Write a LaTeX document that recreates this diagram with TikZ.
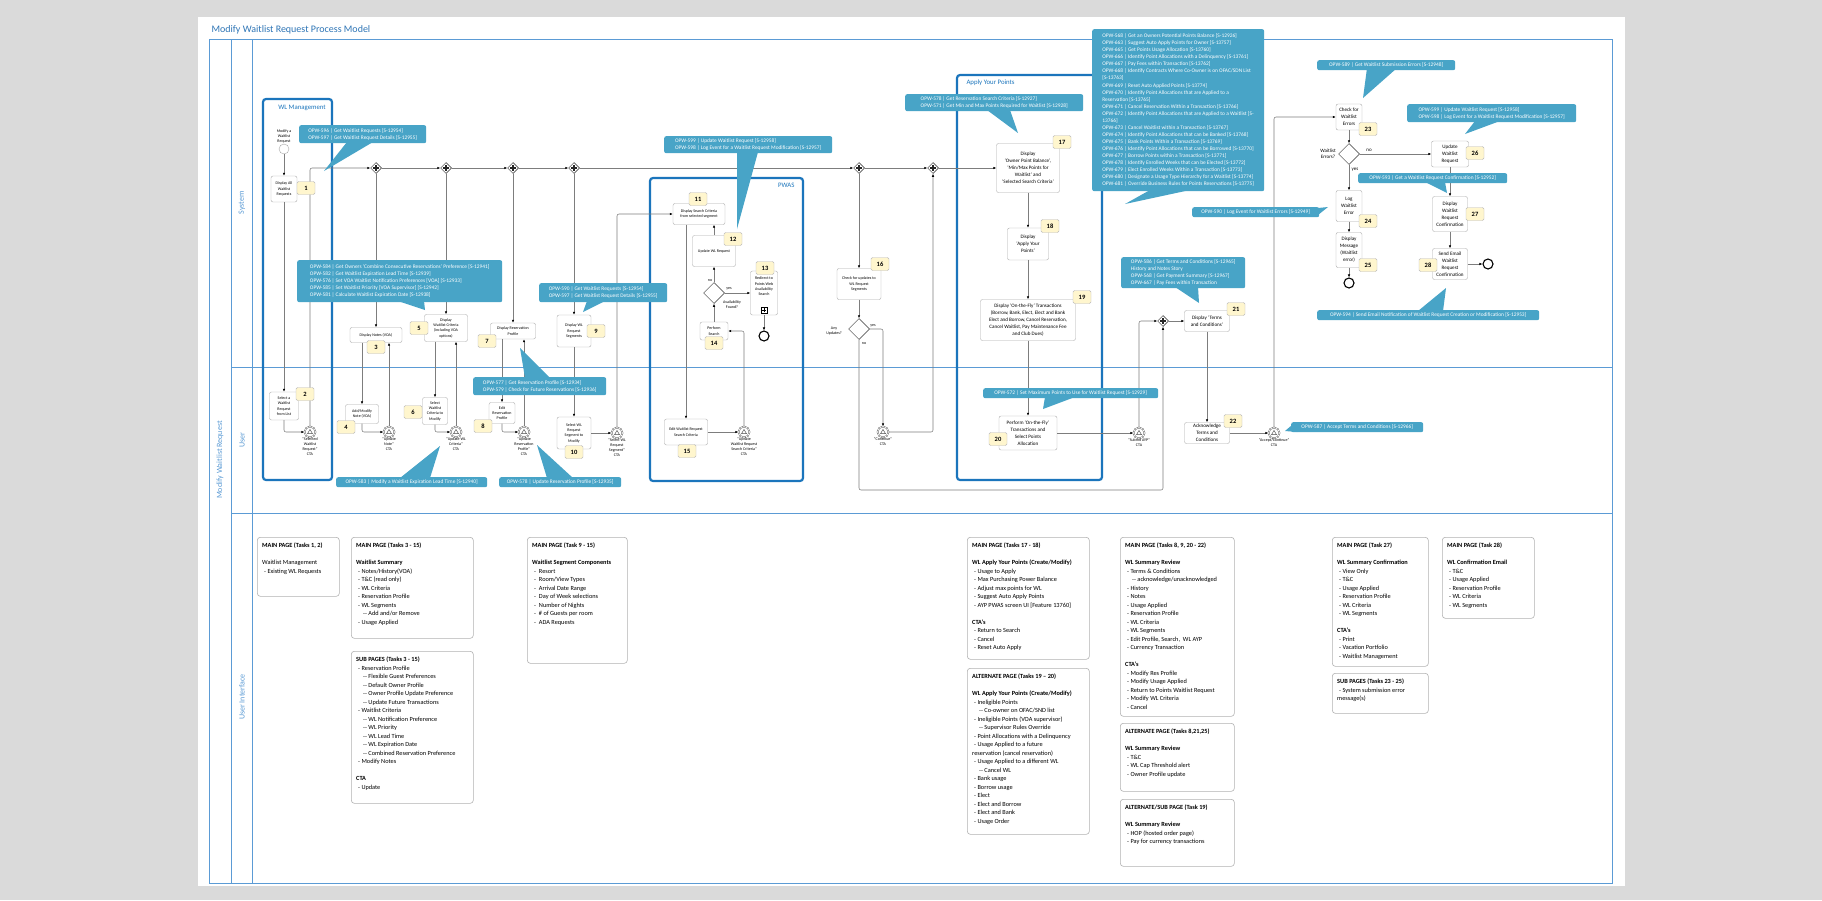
\documentclass[tikz,border=0pt]{standalone}
\usepackage{fontspec}
\setmainfont{Carlito}
\usetikzlibrary{shapes.geometric,arrows.meta,positioning}

\definecolor{lanecol}{RGB}{91,155,213}
\definecolor{grpcol}{RGB}{27,117,188}
\definecolor{callcol}{RGB}{72,164,199}
\definecolor{badgecol}{RGB}{255,246,206}
\definecolor{pagegray}{RGB}{218,218,218}
\definecolor{titlecol}{RGB}{46,117,182}
\definecolor{flowcol}{RGB}{125,125,125}

\newcommand{\lvA}{\hspace*{2pt}}
\newcommand{\lvB}{\hspace*{7pt}}

\tikzset{
  lane/.style={draw=lanecol, line width=0.8pt},
  lanelbl/.style={text=lanecol, font=\fontsize{8}{9}\selectfont, rotate=90},
  grp/.style={draw=grpcol, line width=2.2pt, rounded corners=3pt},
  grplbl/.style={text=grpcol, font=\fontsize{6.8}{8}\selectfont},
  tsk/.style={draw=gray!65, fill=white, rounded corners=2pt, align=center, inner sep=1pt,
    font=\fontsize{4}{5.3}\selectfont},
  tskb/.style={tsk, font=\fontsize{5.1}{7}\selectfont},
  badge/.style={draw=gray!55, fill=badgecol, rounded corners=1.5pt, minimum width=18pt,
    minimum height=13pt, inner sep=0pt, font=\fontsize{6.5}{7}\selectfont\bfseries},
  pgate/.style={diamond, draw=black!85, fill=white, minimum size=11pt, inner sep=0pt, line width=0.5pt,
    path picture={\draw[line width=1.1pt]
      ([yshift=3pt]path picture bounding box.center) -- ([yshift=-3pt]path picture bounding box.center)
      ([xshift=-3pt]path picture bounding box.center) -- ([xshift=3pt]path picture bounding box.center);}},
  xgate/.style={diamond, draw=black!80, fill=white, minimum size=21pt, inner sep=0pt, line width=0.5pt},
  startev/.style={circle, draw=gray!70, fill=white, minimum size=10pt, inner sep=0pt},
  endev/.style={circle, draw=black, line width=1.1pt, fill=white, minimum size=10pt, inner sep=0pt},
  sig/.style={circle, draw=black!70, double, double distance=0.7pt, fill=white, minimum size=11pt,
    inner sep=0pt, label distance=3pt,
    path picture={\draw[black!70, line width=0.45pt]
      ([yshift=2.6pt]path picture bounding box.center)
      -- ([xshift=-2.5pt,yshift=-1.7pt]path picture bounding box.center)
      -- ([xshift=2.5pt,yshift=-1.7pt]path picture bounding box.center) -- cycle;}},
  evlbl/.style={font=\fontsize{4}{5}\selectfont, align=center, inner sep=0pt},
  gwlbl/.style={font=\fontsize{4}{5}\selectfont, align=center, inner sep=0pt},
  gwlblb/.style={font=\fontsize{5}{6}\selectfont, align=center, inner sep=0pt},
  flow/.style={draw=flowcol, line width=0.55pt, rounded corners=2pt,
    -{Latex[length=3pt,width=2.5pt,color=black]}},
  callout/.style={fill=callcol, text=white, rounded corners=2pt, align=left, anchor=north west,
    inner xsep=3pt, inner ysep=1.5pt, font=\fontsize{5.4}{7}\selectfont},
  uibox/.style={draw=gray!60, rounded corners=3pt, anchor=north west, inner sep=0pt, line width=0.6pt},
  uitext/.style={anchor=north west, align=left, inner sep=0pt, font=\fontsize{6.3}{8.5}\selectfont}
}

\begin{document}
\begin{tikzpicture}[x=1pt,y=-1pt]
\useasboundingbox (0,0) rectangle (1822,900);
\fill[pagegray] (0,0) rectangle (1822,900);
\fill[white] (198,17) rectangle (1625,886);

% pool and lanes
\node[anchor=west, text=titlecol, font=\fontsize{10}{12}\selectfont] (title) at (208,30) {Modify Waitlist Request Process Model};
\draw[lane] (209,39) rectangle (1612,883);
\draw[lane] (231,39) -- (231,883);
\draw[lane] (252,39) -- (252,883);
\draw[lane] (231,367) -- (1612,367);
\draw[lane] (231,513) -- (1612,513);
\node[lanelbl] (poolname) at (220,460) {Modify Waitlist Request};
\node[lanelbl] (sysname) at (242,203) {System};
\node[lanelbl] (usrname) at (242,440) {User};
\node[lanelbl] (uiname) at (242,697) {User Interface};

% groups
\draw[grp] (263,99) rectangle (332,480);
\node[grplbl] (wlmgmt) at (302,108) {WL Management};
\draw[grp] (650,178) rectangle (803,481);
\node[grplbl, anchor=east] (pwas) at (798,185) {PWAS};
\draw[grp] (957,75) rectangle (1102,480);
\node[grplbl, anchor=west] (ayp) at (963,83) {Apply Your Points};

% events and gateways
\node[startev, label={[evlbl]above:{Modify a\\Waitlist\\Request}}] (st) at (284,149) {};
\node[sig, label={[evlbl]below:{“Selected\\Waitlist\\Request”\\CTA}}] (e1) at (310,432) {};
\node[sig, label={[evlbl]below:{“Update\\Note”\\CTA}}] (e2) at (389,432) {};
\node[sig, label={[evlbl]below:{“Update WL\\Criteria”\\CTA}}] (e3) at (456,432) {};
\node[sig, label={[evlbl]below:{“Update\\Reservation\\Profile”\\CTA}}] (e4) at (524,432) {};
\node[sig, label={[evlbl]below:{“Select WL\\Request\\Segment”\\CTA}}] (e5) at (617,433) {};
\node[sig, label={[evlbl]below:{“Update\\Waitlist Request\\Search Criteria”\\CTA}}] (e6) at (744,432) {};
\node[sig, label={[evlbl]below:{“Continue”\\CTA}}] (e7) at (883,432) {};
\node[sig, label={[evlbl]below:{“Submit AYP”\\CTA}}] (e8) at (1139,433) {};
\node[sig, label={[evlbl]below:{“Accept/Continue”\\CTA}}] (e9) at (1274,433) {};
\node[endev] (end1) at (764,336) {};
\node[endev] (end2) at (1349,283) {};
\node[endev] (end3) at (1488,264) {};

\node[pgate] (g1) at (376,168) {};
\node[pgate] (g2) at (446,168) {};
\node[pgate] (g3) at (513,168) {};
\node[pgate] (g4) at (574,168) {};
\node[pgate] (g5) at (859,168) {};
\node[pgate] (g6) at (933,168) {};
\node[pgate] (g7) at (1163,321) {};
\node[xgate] (x1) at (714,293) {};
\node[xgate] (x2) at (859,329) {};
\node[xgate] (x3) at (1349,154) {};
\node[gwlbl] (availq) at (732,305) {Availability\\Found?};
\node[gwlbl] (x1no) at (710,281) {no};
\node[gwlbl] (x1yes) at (729,289) {yes};
\node[gwlbl] (anyupd) at (834,331) {Any\\Updates?};
\node[gwlbl] (x2yes) at (873,326) {yes};
\node[gwlbl] (x2no) at (864,344) {no};
\node[gwlblb] (wlerrq) at (1328,154) {Waitlist\\Errors?};
\node[gwlblb] (x3no) at (1369,150) {no};
\node[gwlblb] (x3yes) at (1355,170) {yes};

% tasks
\node[tsk, minimum width=26pt, minimum height=26pt] (t1) at (284,189) {Display All\\Waitlist\\Requests};
\node[tsk, minimum width=29pt, minimum height=28pt] (t2) at (284,406) {Select a\\Waitlist\\Request\\from List};
\node[tsk, minimum width=52pt, minimum height=15pt] (t3) at (376,335) {Display Notes (VOA)};
\node[tsk, minimum width=33pt, minimum height=19pt] (t4) at (362,414) {Add/Modify\\Note (VOA)};
\node[tsk, minimum width=43pt, minimum height=27pt] (t5) at (446,328) {Display\\Waitlist Criteria\\(including VOA\\options)};
\node[tsk, minimum width=25pt, minimum height=27pt] (t6) at (435,411) {Select\\Waitlist\\Criteria to\\Modify};
\node[tsk, minimum width=45pt, minimum height=16pt] (t7) at (513,331) {Display Reservation\\Profile};
\node[tsk, minimum width=26pt, minimum height=21pt] (t8) at (502,413) {Edit\\Reservation\\Profile};
\node[tsk, minimum width=34pt, minimum height=32pt] (t9) at (574,331) {Display WL\\Request\\Segments};
\node[tsk, minimum width=34pt, minimum height=32pt] (t10) at (574,433) {Select WL\\Request\\Segment to\\Modify};
\node[tsk, minimum width=52pt, minimum height=21pt] (t11) at (699,214) {Display Search Criteria\\from selected segment};
\node[tsk, minimum width=43pt, minimum height=31pt] (t12) at (714,251) {Update WL Request};
\node[tsk, minimum width=27pt, minimum height=44pt] (t13) at (764,293) {Redirect to\\Points Web\\Availability\\Search\\[8pt]};
\node[tsk, minimum width=28pt, minimum height=18pt] (t14) at (714,331) {Perform\\Search};
\node[tsk, minimum width=43pt, minimum height=26pt] (t15) at (686,432) {Edit Waitlist Request\\Search Criteria};
\node[tsk, minimum width=44pt, minimum height=31pt] (t16) at (859,284) {Check for updates to\\WL Request\\Segments};
\node[tskb, minimum width=63pt, minimum height=49pt] (t17) at (1028,168) {Display\\‘Owner Point Balance’,\\‘Min/Max Points for\\Waitlist’ and\\‘Selected Search Criteria’};
\node[tskb, minimum width=41pt, minimum height=32pt] (t18) at (1028,244) {Display\\‘Apply Your\\Points’};
\node[tskb, minimum width=95pt, minimum height=41pt] (t19) at (1028,320) {Display ‘On-the-Fly’ Transactions\\(Borrow, Bank, Elect, Elect and Bank\\Elect and Borrow, Cancel Reservation,\\Cancel Waitlist, Pay Maintenance Fee\\and Club Dues)};
\node[tskb, minimum width=58pt, minimum height=34pt] (t20) at (1028,433) {Perform ‘On-the-Fly’\\Transactions and\\Select Points\\Allocation};
\node[tskb, minimum width=45pt, minimum height=21pt] (t21) at (1207,321) {Display ‘Terms\\and Conditions’};
\node[tskb, minimum width=45pt, minimum height=21pt] (t22) at (1207,433) {Acknowledge\\Terms and\\Conditions};
\node[tskb, minimum width=26pt, minimum height=26pt] (t23) at (1349,117) {Check for\\Waitlist\\Errors};
\node[tskb, minimum width=26pt, minimum height=31pt] (t24) at (1349,206) {Log\\Waitlist\\Error};
\node[tskb, minimum width=26pt, minimum height=35pt] (t25) at (1349,250) {Display\\Message\\(Waitlist\\error)};
\node[tskb, minimum width=37pt, minimum height=26pt] (t26) at (1450,154) {Update\\Waitlist\\Request};
\node[tskb, minimum width=35pt, minimum height=35pt] (t27) at (1450,214) {Display\\Waitlist\\Request\\Confirmation};
\node[tskb, minimum width=35pt, minimum height=31pt] (t28) at (1450,264) {Send Email\\Waitlist\\Request\\Confirmation};
% sub-process marker
\draw[line width=0.45pt] ([xshift=-3pt,yshift=2pt]t13.south) rectangle ([xshift=3pt,yshift=8pt]t13.south);
\draw[line width=0.6pt] ([yshift=3pt]t13.south) -- ([yshift=7pt]t13.south)
  ([xshift=-2pt,yshift=5pt]t13.south) -- ([xshift=2pt,yshift=5pt]t13.south);

% sequence flows
\draw[flow] (st) -- (t1);
\draw[flow] (t1) -- (t2);
\draw[flow] (t2.south) |- (e1);
\draw[flow] (e1) |- (g1);
\draw[flow] (g1) -- (g2);
\draw[flow] (g2) -- (g3);
\draw[flow] (g3) -- (g4);
\draw[flow] (g4) -- (g5);
\draw[flow] (g5) -- (g6);
\draw[flow] (g6) -- (t17);
\draw[flow] (g1) -- (t3);
\draw[flow] (t3.south -| t4) -- (t4);
\draw[flow] (t4.south) |- (e2);
\draw[flow] (e2) -- (e2 |- t3.south);
\draw[flow] (g2) -- (t5);
\draw[flow] (t5.south -| t6) -- (t6);
\draw[flow] (t6.south) |- (e3);
\draw[flow] (e3) -- (e3 |- t5.south);
\draw[flow] (g3) -- (t7);
\draw[flow] (t7.south -| t8) -- (t8);
\draw[flow] (t8.south) |- (e4);
\draw[flow] (e4) -- (e4 |- t7.south);
\draw[flow] (g4) -- (t9);
\draw[flow] (t9) -- (t10);
\draw[flow] (t10) -- (e5);
\draw[flow] (e5) |- (t11);
\draw[flow] (t11.south -| t15) -- (t15);
\draw[flow] (t15) -- (e6);
\draw[flow] (e6) |- (t14);
\draw[flow] (t14) -- (x1);
\draw[flow] (x1) -- (t12);
\draw[flow] (x1) -- (t13);
\draw[flow] (t13) -- (end1);
\draw[flow] (t12.north) -- (t12.north |- t11.south);
\draw[flow] (g5) -- (t16);
\draw[flow] (t16) -- (x2);
\draw[flow] (x2) -| (e7);
\draw[flow] (e7) -| (g6);
\coordinate (nobend) at (1163,490);
\draw[flow] (x2) |- (nobend) -- (g7);
\draw[flow] (t17) -- (t18);
\draw[flow] (t18) -- (t19);
\draw[flow] (t19) -- (t20);
\draw[flow] (t20) -- (e8);
\draw[flow] (e8) |- (g7);
\draw[flow] (g7) -- (t21);
\draw[flow] (t21) -- (t22);
\draw[flow] (t22) -- (e9);
\draw[flow] (e9) |- (t23);
\draw[flow] (t23) -- (x3);
\draw[flow] (x3) -- (t26);
\draw[flow] (x3) -- (t24);
\draw[flow] (t24) -- (t25);
\draw[flow] (t25) -- (end2);
\draw[flow] (t26) -- (t27);
\draw[flow] (t27) -- (t28);
\draw[flow] (t28) -- (end3);

% task numbers
\node[badge] (b1) at (306,188) {1};
\node[badge] (b2) at (305,394) {2};
\node[badge] (b3) at (376,347) {3};
\node[badge] (b4) at (346,427) {4};
\node[badge] (b5) at (419,328) {5};
\node[badge] (b6) at (413,412) {6};
\node[badge] (b7) at (487,341) {7};
\node[badge] (b8) at (483,426) {8};
\node[badge] (b9) at (596,331) {9};
\node[badge] (b10) at (574,452) {10};
\node[badge] (b11) at (698,199) {11};
\node[badge] (b12) at (733,239) {12};
\node[badge] (b13) at (765,268) {13};
\node[badge] (b14) at (714,343) {14};
\node[badge] (b15) at (687,451) {15};
\node[badge] (b16) at (880,264) {16};
\node[badge] (b17) at (1062,142) {17};
\node[badge] (b18) at (1050,226) {18};
\node[badge] (b19) at (1082,297) {19};
\node[badge] (b20) at (998,439) {20};
\node[badge] (b21) at (1236,309) {21};
\node[badge] (b22) at (1233,421) {22};
\node[badge] (b23) at (1368,129) {23};
\node[badge] (b24) at (1368,221) {24};
\node[badge] (b25) at (1368,265) {25};
\node[badge] (b26) at (1475,153) {26};
\node[badge] (b27) at (1475,214) {27};
\node[badge] (b28) at (1428,265) {28};

% service callouts
\coordinate (cAtip) at (324,171);
\fill[callcol] (347,142) -- (cAtip) -- (373,142) -- cycle;
\node[callout, minimum width=127pt, minimum height=18pt] (cA) at (299,125)
  {OPW-596 | Get Waitlist Requests [S-12954]\\OPW-597 | Get Waitlist Request Details [S-12955]};
\coordinate (cBtip) at (425,310);
\fill[callcol] (398,301) -- (cBtip) -- (424,301) -- cycle;
\node[callout, minimum width=205pt, minimum height=42pt] (cB) at (297,260)
  {OPW-584 | Get Owners ‘Combine Consecutive Reservations’ Preference [S-12941]\\
   OPW-582 | Get Waitlist Expiration Lead Time [S-12939]\\
   OPW-576 | Set VOA Waitlist Notification Preferences [VOA] [S-12933]\\
   OPW-585 | Set Waitlist Priority [VOA Supervisor] [S-12942]\\
   OPW-581 | Calculate Waitlist Expiration Date [S-12938]};
\coordinate (cCtip) at (583,312);
\fill[callcol] (587,301) -- (cCtip) -- (605,301) -- cycle;
\node[callout, minimum width=128pt, minimum height=19pt] (cC) at (539,283)
  {OPW-590 | Get Waitlist Requests [S-12954]\\OPW-597 | Get Waitlist Request Details [S-12955]};
\coordinate (cDtip) at (520,348);
\fill[callcol] (525,378) -- (cDtip) -- (550,378) -- cycle;
\node[callout, minimum width=133pt, minimum height=18pt] (cD) at (473,377)
  {OPW-577 | Get Reservation Profile [S-12934]\\OPW-579 | Check for Future Reservations [S-12936]};
\coordinate (cEtip) at (440,446);
\fill[callcol] (400,478) -- (cEtip) -- (430,478) -- cycle;
\node[callout, minimum width=151pt, minimum height=10pt] (cE) at (336,477)
  {OPW-583 | Modify a Waitlist Expiration Lead Time [S-12940]};
\coordinate (cFtip) at (537,445);
\fill[callcol] (547,478) -- (cFtip) -- (573,478) -- cycle;
\node[callout, minimum width=122pt, minimum height=10pt] (cF) at (499,477)
  {OPW-578 | Update Reservation Profile [S-12935]};
\coordinate (cGtip) at (737,229);
\fill[callcol] (737,152) -- (cGtip) -- (758,152) -- cycle;
\node[callout, minimum width=168pt, minimum height=17pt] (cG) at (664,136)
  {OPW-599 | Update Waitlist Request [S-12958]\\OPW-598 | Log Event for a Waitlist Request Modification [S-12957]};
\coordinate (cHtip) at (1018,133);
\fill[callcol] (987,110) -- (cHtip) -- (1010,110) -- cycle;
\node[callout, minimum width=178pt, minimum height=17pt] (cH) at (905,94)
  {OPW-578 | Get Reservation Search Criteria [S-12927]\\OPW-571 | Get Min and Max Points Required for Waitlist [S-12928]};
\coordinate (cItip) at (1125,204);
\fill[callcol] (1150,190) -- (cItip) -- (1190,190) -- cycle;
\node[callout, minimum width=172pt, minimum height=162pt, font=\fontsize{5.4}{7.05}\selectfont] (cI) at (1092,29)
  {OPW-568 | Get an Owners Potential Points Balance [S-12926]\\
   OPW-663 | Suggest Auto Apply Points for Owner [S-13757]\\
   OPW-665 | Get Points Usage Allocation [S-13760]\\
   OPW-666 | Identify Point Allocations with a Delinquency [S-13761]\\
   OPW-667 | Pay Fees within Transaction [S-13762]\\
   OPW-668 | Identify Contracts Where Co-Owner is on OFAC/SDN List\\
   {}[S-13763]\\
   OPW-669 | Reset Auto Applied Points [S-13774]\\
   OPW-670 | Identify Point Allocations that are Applied to a\\
   Reservation [S-13765]\\
   OPW-671 | Cancel Reservation Within a Transaction [S-13766]\\
   OPW-672 | Identify Point Allocations that are Applied to a Waitlist [S-\\
   13766]\\
   OPW-673 | Cancel Waitlist within a Transaction [S-13767]\\
   OPW-674 | Identify Point Allocations that can be Banked [S-13768]\\
   OPW-675 | Bank Points Within a Transaction [S-13769]\\
   OPW-676 | Identify Point Allocations that can be Borrowed [S-13770]\\
   OPW-677 | Borrow Points within a Transaction [S-13771]\\
   OPW-678 | Identify Enrolled Weeks that can be Elected [S-13772]\\
   OPW-679 | Elect Enrolled Weeks Within a Transaction [S-13773]\\
   OPW-680 | Designate a Usage Type Hierarchy for a Waitlist [S-13774]\\
   OPW-681 | Override Business Rules for Points Reservations [S-13775]};
\coordinate (cJtip) at (1328,207);
\fill[callcol] (1318,208) -- (cJtip) -- (1318,215) -- cycle;
\node[callout, minimum width=127pt, minimum height=10pt] (cJ) at (1192,207)
  {OPW-590 | Log Event for Waitlist Errors [S-12949]};
\coordinate (cKtip) at (1363,98);
\fill[callcol] (1367,68) -- (cKtip) -- (1397,68) -- cycle;
\node[callout, minimum width=138pt, minimum height=10pt] (cK) at (1317,60)
  {OPW-589 | Get Waitlist Submission Errors [S-12948]};
\coordinate (cLtip) at (1465,134);
\fill[callcol] (1475,121) -- (cLtip) -- (1500,121) -- cycle;
\node[callout, minimum width=169pt, minimum height=18pt] (cL) at (1407,104)
  {OPW-599 | Update Waitlist Request [S-12958]\\OPW-598 | Log Event for a Waitlist Request Modification [S-12957]};
\coordinate (cMtip) at (1447,193);
\fill[callcol] (1425,182) -- (cMtip) -- (1445,182) -- cycle;
\node[callout, minimum width=149pt, minimum height=10pt] (cM) at (1358,173)
  {OPW-593 | Get a Waitlist Request Confirmation [S-12952]};
\coordinate (cNtip) at (1446,288);
\fill[callcol] (1418,311) -- (cNtip) -- (1443,311) -- cycle;
\node[callout, minimum width=222pt, minimum height=10pt] (cN) at (1317,310)
  {OPW-594 | Send Email Notification of Waitlist Request Creation or Modification [S-12953]};
\coordinate (cOtip) at (1199,303);
\fill[callcol] (1175,287) -- (cOtip) -- (1198,287) -- cycle;
\node[callout, minimum width=124pt, minimum height=31pt] (cO) at (1121,257)
  {OPW-586 | Get Terms and Conditions [S-12965]\\History and Notes Story\\
   OPW-568 | Get Payment Summary [S-12967]\\OPW-667 | Pay Fees within Transaction};
\coordinate (cPtip) at (1043,409);
\fill[callcol] (1045,397) -- (cPtip) -- (1075,397) -- cycle;
\node[callout, minimum width=175pt, minimum height=10pt] (cP) at (983,388)
  {OPW-572 | Set Maximum Points to Use for Waitlist Request [S-12929]};
\coordinate (cQtip) at (1285,431);
\fill[callcol] (1292,425) -- (cQtip) -- (1297,432) -- cycle;
\node[callout, minimum width=132pt, minimum height=10pt] (cQ) at (1291,422)
  {OPW-587 | Accept Terms and Conditions [S-12966]};

% user interface pages
\node[uibox, minimum width=82pt, minimum height=59pt] (uiA) at (257,537) {};
\node[uitext] (uiAt) at ([xshift=5pt,yshift=-6pt]uiA.north west)
  {\textbf{MAIN PAGE (Tasks 1, 2)}\\[8.5pt]
   Waitlist Management\\
   \lvA- Existing WL Requests};
\node[uibox, minimum width=122pt, minimum height=101pt] (uiB) at (351,537) {};
\node[uitext] (uiBt) at ([xshift=5pt,yshift=-6pt]uiB.north west)
  {\textbf{MAIN PAGE (Tasks 3 - 15)}\\[8.5pt]
   \textbf{Waitlist Summary}\\
   \lvA- Notes/History(VOA)\\
   \lvA- T\&C (read only)\\
   \lvA- WL Criteria\\
   \lvA- Reservation Profile\\
   \lvA- WL Segments\\
   \lvB-{}- Add and/or Remove\\
   \lvA- Usage Applied};
\node[uibox, minimum width=122pt, minimum height=152pt] (uiC) at (351,651) {};
\node[uitext] (uiCt) at ([xshift=5pt,yshift=-6pt]uiC.north west)
  {\textbf{SUB PAGES (Tasks 3 - 15)}\\
   \lvA- Reservation Profile\\
   \lvB-{}- Flexible Guest Preferences\\
   \lvB-{}- Default Owner Profile\\
   \lvB-{}- Owner Profile Update Preference\\
   \lvB-{}- Update Future Transactions\\
   \lvA- Waitlist Criteria\\
   \lvB-{}- WL Notification Preference\\
   \lvB-{}- WL Priority\\
   \lvB-{}- WL Lead Time\\
   \lvB-{}- WL Expiration Date\\
   \lvB-{}- Combined Reservation Preference\\
   \lvA- Modify Notes\\[8.5pt]
   \textbf{CTA}\\
   \lvA- Update};
\node[uibox, minimum width=100pt, minimum height=126pt] (uiD) at (527,537) {};
\node[uitext] (uiDt) at ([xshift=5pt,yshift=-6pt]uiD.north west)
  {\textbf{MAIN PAGE (Task 9 - 15)}\\[8.5pt]
   \textbf{Waitlist Segment Components}\\
   \lvA-~ Resort\\
   \lvA-~ Room/View Types\\
   \lvA-~ Arrival Date Range\\
   \lvA-~ Day of Week selections\\
   \lvA-~ Number of Nights\\
   \lvA-~ \# of Guests per room\\
   \lvA-~ ADA Requests};
\node[uibox, minimum width=122pt, minimum height=122pt] (uiE) at (967,537) {};
\node[uitext] (uiEt) at ([xshift=5pt,yshift=-6pt]uiE.north west)
  {\textbf{MAIN PAGE (Tasks 17 - 18)}\\[8.5pt]
   \textbf{WL Apply Your Points (Create/Modify)}\\
   \lvA- Usage to Apply\\
   \lvA- Max Purchasing Power Balance\\
   \lvA- Adjust max points for WL\\
   \lvA- Suggest Auto Apply Points\\
   \lvA- AYP PWAS screen UI [Feature 13760]\\[8.5pt]
   \textbf{CTA's}\\
   \lvA- Return to Search\\
   \lvA- Cancel\\
   \lvA- Reset Auto Apply};
\node[uibox, minimum width=122pt, minimum height=166pt] (uiF) at (967,668) {};
\node[uitext] (uiFt) at ([xshift=5pt,yshift=-6pt]uiF.north west)
  {\textbf{ALTERNATE PAGE (Tasks 19 – 20)}\\[8.5pt]
   \textbf{WL Apply Your Points (Create/Modify)}\\
   \lvA- Ineligible Points\\
   \lvB-{}- Co-owner on OFAC/SND list\\
   \lvA- Ineligible Points (VOA supervisor)\\
   \lvB-{}- Supervisor Rules Override\\
   \lvA- Point Allocations with a Delinquency\\
   \lvA- Usage Applied to a future\\
   reservation (cancel reservation)\\
   \lvA- Usage Applied to a different WL\\
   \lvB-{}- Cancel WL\\
   \lvA- Bank usage\\
   \lvA- Borrow usage\\
   \lvA- Elect\\
   \lvA- Elect and Borrow\\
   \lvA- Elect and Bank\\
   \lvA- Usage Order};
\node[uibox, minimum width=114pt, minimum height=179pt] (uiG) at (1120,537) {};
\node[uitext] (uiGt) at ([xshift=5pt,yshift=-6pt]uiG.north west)
  {\textbf{MAIN PAGE (Tasks 8, 9, 20 - 22)}\\[8.5pt]
   \textbf{WL Summary Review}\\
   \lvA- Terms \& Conditions\\
   \lvB-{}- acknowledge/unacknowledged\\
   \lvA- History\\
   \lvA- Notes\\
   \lvA- Usage Applied\\
   \lvA- Reservation Profile\\
   \lvA- WL Criteria\\
   \lvA- WL Segments\\
   \lvA- Edit Profile, Search,\ \ WL AYP\\
   \lvA- Currency Transaction\\[8.5pt]
   \textbf{CTA's}\\
   \lvA- Modify Res Profile\\
   \lvA- Modify Usage Applied\\
   \lvA- Return to Points Waitlist Request\\
   \lvA- Modify WL Criteria\\
   \lvA- Cancel};
\node[uibox, minimum width=114pt, minimum height=68pt] (uiH) at (1120,723) {};
\node[uitext] (uiHt) at ([xshift=5pt,yshift=-6pt]uiH.north west)
  {\textbf{ALTERNATE PAGE (Tasks 8,21,25)}\\[8.5pt]
   \textbf{WL Summary Review}\\
   \lvA- T\&C\\
   \lvA- WL Cap Threshold alert\\
   \lvA- Owner Profile update};
\node[uibox, minimum width=114pt, minimum height=67pt] (uiI) at (1120,799) {};
\node[uitext] (uiIt) at ([xshift=5pt,yshift=-6pt]uiI.north west)
  {\textbf{ALTERNATE/SUB PAGE (Task 19)}\\[8.5pt]
   \textbf{WL Summary Review}\\
   \lvA- HOP (hosted order page)\\
   \lvA- Pay for currency transactions};
\node[uibox, minimum width=96pt, minimum height=129pt] (uiJ) at (1332,537) {};
\node[uitext] (uiJt) at ([xshift=5pt,yshift=-6pt]uiJ.north west)
  {\textbf{MAIN PAGE (Task 27)}\\[8.5pt]
   \textbf{WL Summary Confirmation}\\
   \lvA- View Only\\
   \lvA- T\&C\\
   \lvA- Usage Applied\\
   \lvA- Reservation Profile\\
   \lvA- WL Criteria\\
   \lvA- WL Segments\\[8.5pt]
   \textbf{CTA's}\\
   \lvA- Print\\
   \lvA- Vacation Portfolio\\
   \lvA- Waitlist Management};
\node[uibox, minimum width=96pt, minimum height=40pt] (uiK) at (1332,673) {};
\node[uitext] (uiKt) at ([xshift=5pt,yshift=-6pt]uiK.north west)
  {\textbf{SUB PAGES (Tasks 23 - 25)}\\
   \lvA- System submission error\\
   message(s)};
\node[uibox, minimum width=92pt, minimum height=81pt] (uiL) at (1442,537) {};
\node[uitext] (uiLt) at ([xshift=5pt,yshift=-6pt]uiL.north west)
  {\textbf{MAIN PAGE (Task 28)}\\[8.5pt]
   \textbf{WL Confirmation Email}\\
   \lvA- T\&C\\
   \lvA- Usage Applied\\
   \lvA- Reservation Profile\\
   \lvA- WL Criteria\\
   \lvA- WL Segments};
\end{tikzpicture}
\end{document}
